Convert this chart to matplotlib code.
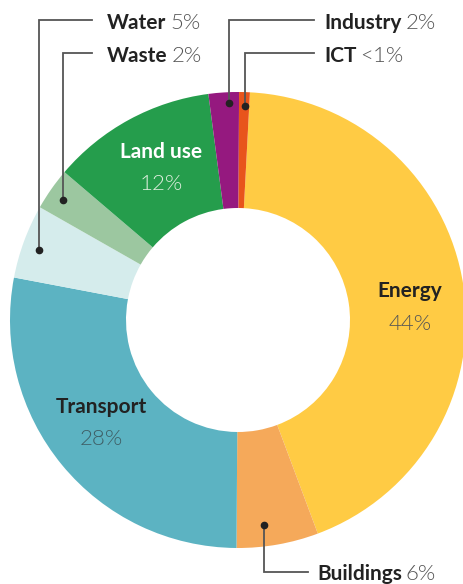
import matplotlib
matplotlib.use('Agg')
import matplotlib.pyplot as plt

sectors = ['Energy', 'Buildings', 'Transport', 'Water', 'Waste', 'Land use', 'Industry', 'ICT']
shares = [43.5, 5.8, 27.9, 5.25, 3.0, 11.7, 2.15, 0.76]
share_labels = ['44%', '6%', '28%', '5%', '2%', '12%', '2%', '<1%']
colors = ['#FFCB44', '#F5A95A', '#5CB3C2', '#D5ECEC', '#9CC7A0', '#259D4C', '#95197F', '#E8541C']

plt.rcParams['font.family'] = ['Lato', 'DejaVu Sans']

W, H = 464, 584
fig = plt.figure(figsize=(W / 100, H / 100), dpi=100)
ax = fig.add_axes([0, 0, 1, 1])

cx, cy = 238, H - 320
R, r_in = 228, 112

wedges, _ = ax.pie(shares, colors=colors, startangle=87, counterclock=False,
                   center=(cx, cy), radius=R, frame=True,
                   wedgeprops=dict(width=R - r_in, linewidth=0))
ax.set_xlim(0, W)
ax.set_ylim(0, H)
ax.set_aspect('equal')
ax.axis('off')

bold = dict(fontsize=15, fontweight='bold')
light = dict(fontsize=16, fontweight=300)

# labels inside the ring: x centre, baseline of name, baseline of share
inside = {'Energy': (410, 297, 330, '#222222', '#555555'),
          'Transport': (101, 413, 445, '#222222', '#3F5F66'),
          'Land use': (161, 158, 190, 'white', '#DDEEDD')}
for name, (x, y1, y2, c1, c2) in inside.items():
    i = sectors.index(name)
    ax.text(x, H - y1, name, color=c1, ha='center', va='baseline', **bold)
    ax.text(x, H - y2, share_labels[i], color=c2, ha='center', va='baseline', **light)

# leader lines for small sectors: dot, line y, line end x, label x, baseline
leaders = {'Water': ((39, 250), 20, 92, 107, 29),
           'Waste': ((63, 200), 53, 92, 107, 62),
           'Industry': ((229, 103), 20, 314, 324, 29),
           'ICT': ((245, 106), 53, 314, 324, 62),
           'Buildings': ((264, 525), 572, 308, 317, 580)}
fig.canvas.draw()
inv = ax.transData.inverted()
for name, ((dx, dy), ly, lx, tx, by) in leaders.items():
    i = sectors.index(name)
    ax.plot([dx, dx, lx], [H - dy, H - ly, H - ly], color='#555555', lw=1.3,
            solid_joinstyle='miter')
    ax.plot(dx, H - dy, 'o', color='#222222', ms=4.5)
    t = ax.text(tx, H - by, name, color='#222222', ha='left',
                va='baseline', **bold)
    bb = t.get_window_extent(renderer=fig.canvas.get_renderer())
    x2 = inv.transform((bb.x1, bb.y0))[0]
    ax.text(x2 + 4, H - by, share_labels[i], color='#555555', ha='left',
            va='baseline', **light)

fig.savefig('out.png', dpi=100)
